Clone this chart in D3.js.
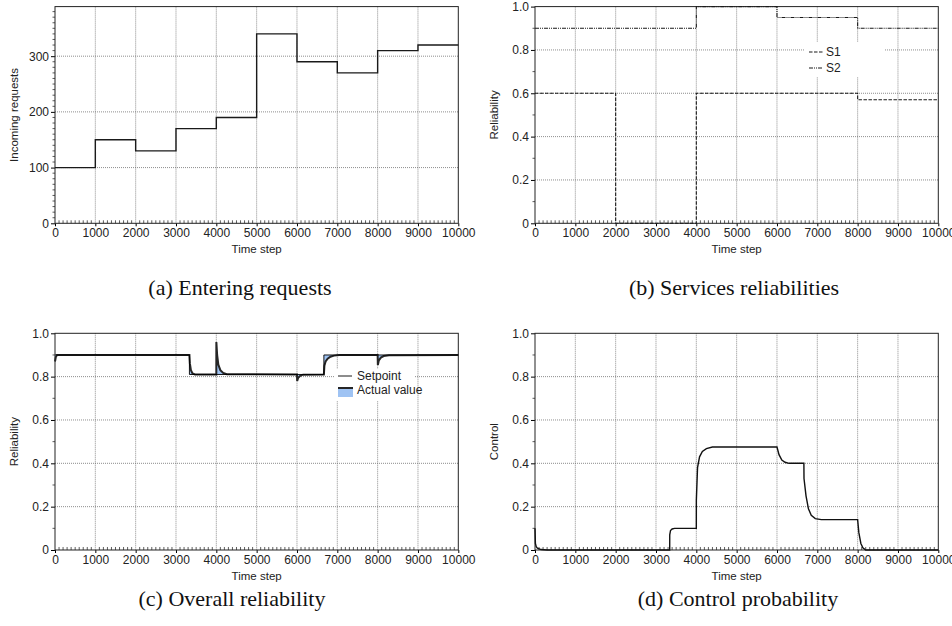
<!DOCTYPE html>
<html>
<head>
<meta charset="utf-8">
<script src="https://cdn.jsdelivr.net/npm/d3@7"></script>
<style>
  body { margin: 0; background: #fff; }
  svg { display: block; }
  .tick-label { font-family: "Liberation Sans", Helvetica, Arial, sans-serif; font-size: 12px; fill: #222; }
  .axis-title { font-family: "Liberation Sans", Helvetica, Arial, sans-serif; font-size: 11.5px; fill: #222; }
  .caption { font-family: "Liberation Serif", "Times New Roman", serif; font-size: 22px; fill: #111; }
</style>
</head>
<body>
<svg id="chart"></svg>
<script>
const size = { w: 952, h: 626 };
const svg = d3.select("svg#chart").attr("width", size.w).attr("height", size.h);

// ---- data ----
const xTicks = [0, 1000, 2000, 3000, 4000, 5000, 6000, 7000, 8000, 9000, 10000];

// (a) incoming requests, one value per 1000-step interval
const reqTimes = [0, 1000, 2000, 3000, 4000, 5000, 6000, 7000, 8000, 9000, 10000];
const reqValues = [100, 150, 130, 170, 190, 340, 290, 270, 310, 320, 320];

// (b) service reliabilities (step changes)
const s1Times = [0, 2000, 4000, 8000, 10000];
const s1Values = [0.6, 0, 0.6, 0.57, 0.57];
const s2Times = [0, 4000, 6000, 8000, 10000];
const s2Values = [0.9, 1.0, 0.95, 0.9, 0.9];

// (c) overall reliability
const setTimes = [0, 3333, 6667, 10000];
const setValues = [0.9, 0.81, 0.9, 0.9];
const actTimes = [0, 20, 50, 3333, 3345, 3370, 3410, 3470, 4000, 4001, 4020, 4050, 4100, 4170, 4260,
  6000, 6005, 6030, 6080, 6150, 6667, 6680, 6710, 6760, 6830, 6920, 7050,
  8000, 8005, 8030, 8080, 8150, 8280, 10000];
const actValues = [0.87, 0.89, 0.9, 0.9, 0.86, 0.83, 0.815, 0.81, 0.81, 0.96, 0.9, 0.855, 0.83, 0.817, 0.811,
  0.81, 0.78, 0.795, 0.804, 0.809, 0.81, 0.85, 0.87, 0.883, 0.892, 0.897, 0.9,
  0.9, 0.854, 0.875, 0.888, 0.895, 0.899, 0.9];

// (d) control probability
const ctlTimes = [0, 10, 30, 60, 150, 300, 3340, 3341, 3360, 3400, 3460, 4000, 4001, 4030, 4080, 4150, 4250, 4400,
  6000, 6050, 6120, 6200, 6300, 6667, 6670, 6720, 6780, 6850, 6950, 7100,
  8000, 8030, 8080, 8130, 8200, 10000];
const ctlValues = [0.1, 0.03, 0.015, 0.008, 0.002, 0, 0, 0.07, 0.09, 0.097, 0.1, 0.1, 0.23, 0.38, 0.43, 0.455, 0.468, 0.475,
  0.475, 0.44, 0.415, 0.405, 0.4, 0.4, 0.33, 0.25, 0.19, 0.16, 0.145, 0.14,
  0.14, 0.08, 0.03, 0.01, 0, 0];

const relTicks = [0, 0.2, 0.4, 0.6, 0.8, 1.0];
const reqTicks = [0, 100, 200, 300];

const captions = ["(a) Entering requests", "(b) Services reliabilities", "(c) Overall reliability", "(d) Control probability"];

const zip = (ts, vs) => ts.map((t, i) => [t, vs[i]]);

function panel(o) {
  const g = svg.append("g").attr("transform", `translate(${o.l}, ${o.t})`);
  const x = d3.scaleLinear().domain([0, 10000]).range([0, o.w]);
  const y = d3.scaleLinear().domain(o.yDomain).range([o.h, 0]);

  // dotted grid
  g.append("g").selectAll("line").data(xTicks.slice(1, -1)).join("line")
    .attr("x1", d => x(d)).attr("x2", d => x(d)).attr("y1", 0).attr("y2", o.h)
    .attr("stroke", "#707070").attr("stroke-width", 0.8).attr("stroke-dasharray", "1,1");
  g.append("g").selectAll("line").data(o.yTicks.filter(d => d > o.yDomain[0] && d < o.yDomain[1])).join("line")
    .attr("x1", 0).attr("x2", o.w).attr("y1", d => y(d)).attr("y2", d => y(d))
    .attr("stroke", "#707070").attr("stroke-width", 0.8).attr("stroke-dasharray", "1,1");

  // minor ticks
  const xMinor = d3.range(100, 10000, 100).filter(d => d % 1000 !== 0);
  g.append("g").selectAll("line").data(xMinor).join("line")
    .attr("x1", d => x(d)).attr("x2", d => x(d)).attr("y1", o.h).attr("y2", o.h - 3)
    .attr("stroke", "#333").attr("stroke-width", 0.8);
  const yMinor = d3.range(o.yDomain[0], o.yDomain[1] + 1e-9, o.yMinorStep)
    .filter(d => !o.yTicks.some(t => Math.abs(t - d) < 1e-9));
  g.append("g").selectAll("line").data(yMinor).join("line")
    .attr("x1", 0).attr("x2", -2.5).attr("y1", d => y(d)).attr("y2", d => y(d))
    .attr("stroke", "#333").attr("stroke-width", 0.8);

  // axes
  const xAxis = d3.axisBottom(x).tickValues(xTicks).tickSize(3).tickPadding(2).tickFormat(d3.format("d"));
  g.append("g").attr("transform", `translate(0, ${o.h})`).call(xAxis)
    .call(a => a.select(".domain").remove())
    .call(a => a.selectAll("text").attr("class", "tick-label").attr("fill", null).attr("font-size", null).attr("font-family", null));
  const yAxis = d3.axisLeft(y).tickValues(o.yTicks).tickSize(4).tickPadding(2).tickFormat(o.yFormat);
  g.append("g").call(yAxis)
    .call(a => a.select(".domain").remove())
    .call(a => a.selectAll("text").attr("class", "tick-label").attr("fill", null).attr("font-size", null).attr("font-family", null));

  // frame
  g.append("rect").attr("width", o.w).attr("height", o.h)
    .attr("fill", "none").attr("stroke", "#222").attr("stroke-width", 1);

  // titles
  g.append("text").attr("class", "axis-title").attr("text-anchor", "middle")
    .attr("x", o.w / 2).attr("y", o.h + 30).text("Time step");
  g.append("text").attr("class", "axis-title").attr("text-anchor", "middle")
    .attr("transform", `translate(${o.yTitleX}, ${o.h / 2}) rotate(-90)`).text(o.yTitle);

  return { g, x, y };
}

const L = 55, R = 535, W = 403.3, H = 216.7;
const fmtRel = d => (d === 0 ? "0" : d3.format(".1f")(d));

// ---- (a) ----
{
  const p = panel({ l: L, t: 6.6, w: W, h: H, yDomain: [0, 389], yTicks: reqTicks, yMinorStep: 10,
    yFormat: d3.format("d"), yTitle: "Incoming requests", yTitleX: -37 });
  const line = d3.line().x(d => p.x(d[0])).y(d => p.y(d[1])).curve(d3.curveStepAfter);
  p.g.append("path").datum(zip(reqTimes, reqValues)).attr("d", line)
    .attr("fill", "none").attr("stroke", "#1a1a1a").attr("stroke-width", 1.4);
}

// ---- (b) ----
{
  const p = panel({ l: R, t: 6.6, w: W, h: H, yDomain: [0, 1], yTicks: relTicks, yMinorStep: 0.1,
    yFormat: fmtRel, yTitle: "Reliability", yTitleX: -37 });
  const line = d3.line().x(d => p.x(d[0])).y(d => p.y(d[1])).curve(d3.curveStepAfter);
  p.g.append("path").datum(zip(s1Times, s1Values)).attr("d", line)
    .attr("fill", "none").attr("stroke", "#1a1a1a").attr("stroke-width", 1.1).attr("stroke-dasharray", "3.5,1.5");
  p.g.append("path").datum(zip(s2Times, s2Values)).attr("d", line)
    .attr("fill", "none").attr("stroke", "#1a1a1a").attr("stroke-width", 1.1).attr("stroke-dasharray", "4,1,1,1,1,1");
  // legend
  const lg = p.g.append("g").attr("transform", `translate(${804 - R}, ${42 - 6.6})`);
  lg.append("rect").attr("width", 80).attr("height", 35).attr("fill", "#fff");
  [["S1", "3.5,1.5"], ["S2", "4,1,1,1,1,1"]].forEach((d, i) => {
    lg.append("line").attr("x1", 5).attr("x2", 19).attr("y1", 10 + i * 16).attr("y2", 10 + i * 16)
      .attr("stroke", "#1a1a1a").attr("stroke-width", 1.1).attr("stroke-dasharray", d[1]);
    lg.append("text").attr("class", "tick-label").attr("x", 22).attr("y", 10 + i * 16).attr("dy", "0.35em").text(d[0]);
  });
}

// ---- (c) ----
{
  const p = panel({ l: L, t: 333.3, w: W, h: H, yDomain: [0, 1], yTicks: relTicks, yMinorStep: 0.1,
    yFormat: fmtRel, yTitle: "Reliability", yTitleX: -37 });
  const step = d3.line().x(d => p.x(d[0])).y(d => p.y(d[1])).curve(d3.curveStepAfter);
  const lin = d3.line().x(d => p.x(d[0])).y(d => p.y(d[1]));
  const act = zip(actTimes, actValues);
  // setpoint expanded into explicit step corners, walked backwards to close the fill
  const setPts = [];
  setTimes.forEach((t, i) => {
    if (i > 0) setPts.push([t, setValues[i - 1]]);
    setPts.push([t, setValues[i]]);
  });
  p.g.append("path").datum(act.concat(setPts.slice().reverse())).attr("d", d => lin(d) + "Z")
    .attr("fill", "#9fc3f3").attr("stroke", "none");
  p.g.append("path").datum(act).attr("d", lin)
    .attr("fill", "none").attr("stroke", "#262626").attr("stroke-width", 2);
  p.g.append("path").datum(zip(setTimes, setValues)).attr("d", step)
    .attr("fill", "none").attr("stroke", "#000").attr("stroke-width", 0.9);
  // legend
  const lg = p.g.append("g").attr("transform", `translate(${334 - L}, ${369 - 333.3})`);
  lg.append("rect").attr("width", 80).attr("height", 32).attr("fill", "#fff");
  lg.append("line").attr("x1", 4).attr("x2", 18).attr("y1", 7).attr("y2", 7).attr("stroke", "#000").attr("stroke-width", 0.9);
  lg.append("text").attr("class", "tick-label").attr("x", 23).attr("y", 7).attr("dy", "0.35em").text("Setpoint");
  lg.append("rect").attr("x", 4).attr("y", 18).attr("width", 15).attr("height", 10).attr("fill", "#9fc3f3");
  lg.append("line").attr("x1", 4).attr("x2", 19).attr("y1", 19).attr("y2", 19).attr("stroke", "#262626").attr("stroke-width", 2);
  lg.append("text").attr("class", "tick-label").attr("x", 23).attr("y", 21).attr("dy", "0.35em").text("Actual value");
}

// ---- (d) ----
{
  const p = panel({ l: R, t: 333.3, w: W, h: H, yDomain: [0, 1], yTicks: relTicks, yMinorStep: 0.1,
    yFormat: fmtRel, yTitle: "Control", yTitleX: -37 });
  const lin = d3.line().x(d => p.x(d[0])).y(d => p.y(d[1]));
  p.g.append("path").datum(zip(ctlTimes, ctlValues)).attr("d", lin)
    .attr("fill", "none").attr("stroke", "#111").attr("stroke-width", 1.4);
}

// captions
svg.selectAll("text.caption").data(captions).join("text")
  .attr("class", "caption").attr("text-anchor", "middle")
  .attr("x", (d, i) => [240, 734, 232, 738][i])
  .attr("y", (d, i) => (i < 2 ? 287 : 598)).attr("dy", "0.35em")
  .text(d => d);
</script>
</body>
</html>
